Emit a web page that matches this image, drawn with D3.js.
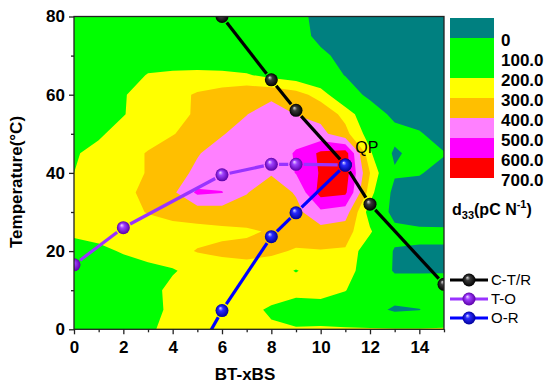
<!DOCTYPE html>
<html>
<head>
<meta charset="utf-8">
<script src="https://cdn.jsdelivr.net/npm/d3@7"></script>
<style>
  body { margin: 0; background: #fff; }
  text { font-family: Arial, "Liberation Sans", sans-serif; }
</style>
</head>
<body>
<div id="chart"></div>
<script>
// d33 map: columns are BT-xBS x, rows are temperature (top row = 80 C)
const xGrid = [0, 1, 2, 3, 4, 5, 6, 7, 8, 9, 10, 11, 12, 13, 14, 15];
const tGrid = [80, 75, 70, 65, 60, 55, 50, 45, 40, 35, 30, 25, 20, 15, 10, 5, 0];
const d33 = [
  [100, 100, 100, 100, 100, 100, 100, 100, 100,  60, -60, -100, -100, -100, -100, -100], // 80
  [100, 100, 100, 100, 100, 100, 100, 100, 100,  80, -50, -100, -100, -100, -100, -100], // 75
  [100, 100, 100, 100, 100, 100, 100, 100, 100, 100,  40,  -60, -100, -100, -100, -100], // 70
  [100, 100, 120, 210, 230, 235, 230, 210, 170, 140,  80,   -5, -100, -100, -100, -100], // 65
  [100, 120, 190, 260, 270, 310, 340, 380, 380, 340, 260,   80,  -35, -100, -100, -100], // 60
  [100, 130, 195, 250, 275, 310, 370, 398, 440, 398, 370,  270,   90,  -40, -100, -100], // 55
  [130, 185, 240, 270, 295, 340, 395, 430, 450, 460, 430,  330,  150,   55,   20, -100], // 50
  [190, 230, 270, 305, 350, 395, 430, 440, 440, 510, 620,  650,  220,  -30,   70,   10], // 45
  [200, 235, 270, 305, 370, 415, 440, 430, 410, 505, 610,  650,  300,   20,   10,  -50], // 40
  [230, 255, 280, 320, 380, 520, 505, 405, 340, 410, 640,  620,  250,  -50,  -60,  -60], // 35
  [235, 250, 270, 305, 330, 345, 350, 360, 355, 370, 480,  450,  150,  -50,  -60,  -70], // 30
  [225, 240, 250, 255, 265, 270, 280, 285, 310, 350, 360,  340,  215,   40,   20,   20], // 25
  [150, 175, 210, 240, 270, 305, 320, 330, 320, 290, 295,  290,  120,  -10,  -10,  -10], // 20
  [120, 130, 150, 170, 190, 240, 255, 260, 240, 195, 240,  250,  130,  -15,  -15,  -15], // 15
  [100, 110, 130, 160, 230, 250, 255, 255, 250, 245, 240,  205,  100,   90,   90,  100], // 10
  [ 80,  90, 110, 150, 230, 245, 240, 230, 185, 130, 150,  120,   60,  -25,   -5,   80], // 5
  [ 70,  90, 120, 180, 240, 250, 250, 240, 215, 210, 210,  210,  210,  210,  210,  210]  // 0
];

// colour levels of the map and colour bar
const levels = [0, 100, 200, 300, 400, 500, 600, 700];
const bandColors = ['#008080', '#00ff00', '#00ff00', '#ffff00', '#ffbf00', '#ff80ff', '#ff00ff', '#ff0000'];

const xTicks = [0, 2, 4, 6, 8, 10, 12, 14];
const xMinor = [1, 3, 5, 7, 9, 11, 13, 15];
const yTicks = [0, 20, 40, 60, 80];
const yMinor = [10, 30, 50, 70];

// phase boundaries
const ctrX = [6, 8, 9, 11, 12, 15];
const ctrT = [80, 63.8, 56, 42, 32, 11.5];
const toX = [0, 2, 6, 8, 9, 11];
const toT = [16.5, 26, 39.5, 42.2, 42.2, 42];
const orX = [5.4, 6, 8, 9, 11];
const orT = [-2, 4.8, 23.7, 29.8, 42];

const series = [
  {name: 'C-T/R', xs: ctrX, ts: ctrT, line: '#000000', hi: '#d8d8d8', mid: '#3a3a3a', edge: '#000000'},
  {name: 'T-O', xs: toX, ts: toT, line: '#9933ff', hi: '#f4dcff', mid: '#a040ff', edge: '#5c00a8'},
  {name: 'O-R', xs: orX, ts: orT, line: '#0000ff', hi: '#e0e0ff', mid: '#2a2aff', edge: '#00009a'}
];

const W = 550, H = 388;
const plot = {left: 74, right: 444, top: 16.5, bottom: 329.3};
const R = 6.5;

const svg = d3.select('#chart').append('svg')
    .attr('width', W)
    .attr('height', H);
svg.append('rect').attr('width', W).attr('height', H).attr('fill', '#fff');

const x = d3.scaleLinear().domain([0, 15]).range([plot.left, plot.right]);
const y = d3.scaleLinear().domain([0, 80]).range([plot.bottom, plot.top]);

const defs = svg.append('defs');
defs.append('clipPath').attr('id', 'plotClip')
  .append('rect')
    .attr('x', plot.left)
    .attr('y', plot.top)
    .attr('width', plot.right - plot.left)
    .attr('height', plot.bottom - plot.top);

series.forEach((s, i) => {
  let g = defs.append('radialGradient')
      .attr('id', 'ball' + i)
      .attr('cx', 0.5).attr('cy', 0.5).attr('r', 0.5)
      .attr('fx', 0.36).attr('fy', 0.3);
  g.append('stop').attr('offset', '0%').attr('stop-color', s.hi);
  g.append('stop').attr('offset', '35%').attr('stop-color', s.mid);
  g.append('stop').attr('offset', '100%').attr('stop-color', s.edge);
});

// contour map
const nx = xGrid.length, ny = tGrid.length;
const gx = d3.scaleLinear().domain([0.5, nx - 0.5]).range([x(xGrid[0]), x(xGrid[nx - 1])]);
const gy = d3.scaleLinear().domain([0.5, ny - 0.5]).range([y(tGrid[0]), y(tGrid[ny - 1])]);
const gridPath = d3.geoPath(d3.geoTransform({
  point: function(px, py) { this.stream.point(gx(px), gy(py)); }
}));
const contours = d3.contours()
    .size([nx, ny])
    .thresholds(levels.slice(0, -1))(d33.flat());

const map = svg.append('g').attr('clip-path', 'url(#plotClip)');
map.append('rect')
    .attr('x', plot.left).attr('y', plot.top)
    .attr('width', plot.right - plot.left)
    .attr('height', plot.bottom - plot.top)
    .attr('fill', bandColors[0]);
map.selectAll('path')
    .data(contours)
    .enter()
    .append('path')
    .attr('d', gridPath)
    .attr('fill', d => bandColors[levels.indexOf(d.value) + 1]);

// phase boundary lines, with a small gap round each ball
function gapped(pts, gap) {
  let segs = [];
  for (let i = 1; i < pts.length; i++) {
    let [x0, y0] = pts[i - 1], [x1, y1] = pts[i];
    let len = Math.hypot(x1 - x0, y1 - y0);
    let ux = (x1 - x0) / len, uy = (y1 - y0) / len;
    segs.push([x0 + ux * gap, y0 + uy * gap, x1 - ux * gap, y1 - uy * gap]);
  }
  return segs;
}

const lines = svg.append('g').attr('clip-path', 'url(#plotClip)');
series.forEach((s, i) => {
  let pts = s.xs.map((v, k) => [x(v), y(s.ts[k])]);
  lines.append('g')
    .selectAll('line')
    .data(gapped(pts, R + 1.2))
    .enter()
    .append('line')
    .attr('x1', d => d[0]).attr('y1', d => d[1])
    .attr('x2', d => d[2]).attr('y2', d => d[3])
    .attr('stroke', s.line)
    .attr('stroke-width', 3.2);
});
series.forEach((s, i) => {
  lines.append('g')
    .selectAll('circle')
    .data(s.xs)
    .enter()
    .append('circle')
    .attr('cx', d => x(d))
    .attr('cy', (d, k) => y(s.ts[k]))
    .attr('r', R)
    .attr('fill', `url(#ball${i})`);
});

// QP label
svg.append('text')
    .attr('x', x(11) + 10)
    .attr('y', y(42) - 12)
    .attr('font-size', '16px')
    .attr('fill', '#000')
    .text('QP');

// frame and axes
svg.append('rect')
    .attr('x', plot.left).attr('y', plot.top)
    .attr('width', plot.right - plot.left)
    .attr('height', plot.bottom - plot.top)
    .attr('fill', 'none')
    .attr('stroke', '#222')
    .attr('stroke-width', 1.3);

function styleAxis(g) {
  g.select('.domain').remove();
  g.selectAll('.tick line').attr('stroke', '#222').attr('stroke-width', 1.3);
  g.selectAll('.tick text')
    .attr('font-size', '17px')
    .attr('font-weight', 'bold')
    .attr('fill', '#000');
}

svg.append('g')
    .attr('transform', 'translate(0,' + plot.bottom + ')')
    .call(d3.axisBottom(x).tickValues(xTicks).tickSize(5).tickPadding(7).tickFormat(d3.format('d')))
    .call(styleAxis);
svg.append('g')
    .attr('transform', 'translate(0,' + plot.bottom + ')')
    .call(d3.axisBottom(x).tickValues(xMinor).tickSize(3).tickFormat(''))
    .call(styleAxis);
svg.append('g')
    .attr('transform', 'translate(' + plot.left + ',0)')
    .call(d3.axisLeft(y).tickValues(yTicks).tickSize(5).tickPadding(4).tickFormat(d3.format('d')))
    .call(styleAxis);
svg.append('g')
    .attr('transform', 'translate(' + plot.left + ',0)')
    .call(d3.axisLeft(y).tickValues(yMinor).tickSize(3).tickFormat(''))
    .call(styleAxis);

svg.append('text')
    .attr('x', 245)
    .attr('y', 380)
    .attr('text-anchor', 'middle')
    .attr('font-size', '17px')
    .attr('font-weight', 'bold')
    .text('BT-xBS');

svg.append('text')
    .attr('transform', 'translate(22,182) rotate(-90)')
    .attr('text-anchor', 'middle')
    .attr('font-size', '17px')
    .attr('font-weight', 'bold')
    .text('Temperature(\u00B0C)');

// colour bar
const cb = d3.scaleLinear().domain([-100, 700]).range([18, 178]);
const cbX = 450, cbW = 44;
svg.append('g')
  .selectAll('rect')
  .data(levels)
  .enter()
  .append('rect')
    .attr('x', cbX)
    .attr('y', (d, i) => cb(i === 0 ? -100 : levels[i - 1]))
    .attr('width', cbW)
    .attr('height', (d, i) => cb(d) - cb(i === 0 ? -100 : levels[i - 1]))
    .attr('fill', (d, i) => bandColors[i]);

svg.append('g')
  .selectAll('text')
  .data(levels)
  .enter()
  .append('text')
    .attr('x', 501)
    .attr('y', d => cb(d) + 1.5)
    .attr('dy', '0.36em')
    .attr('font-size', '17px')
    .attr('font-weight', 'bold')
    .text(d => d === 0 ? '0' : d3.format('.1f')(d));

let unit = svg.append('text')
    .attr('x', 452)
    .attr('y', 215)
    .attr('font-size', '16px')
    .attr('font-weight', 'bold');
unit.append('tspan').text('d');
unit.append('tspan').attr('dy', 4).attr('font-size', '11px').text('33');
unit.append('tspan').attr('dy', -4).text('(pC N');
unit.append('tspan').attr('dy', -7).attr('font-size', '11px').text('-1');
unit.append('tspan').attr('dy', 7).text(')');

// legend
const legend = svg.append('g')
  .selectAll('g')
  .data(series)
  .enter()
  .append('g')
    .attr('transform', (d, i) => 'translate(450,' + (280 + i * 19) + ')');
legend.append('line')
    .attr('x1', 0).attr('x2', 38)
    .attr('stroke', d => d.line)
    .attr('stroke-width', 3.2);
legend.append('circle')
    .attr('cx', 19)
    .attr('r', R)
    .attr('fill', (d, i) => `url(#ball${i})`);
legend.append('text')
    .attr('x', 41)
    .attr('dy', '0.36em')
    .attr('font-size', '15px')
    .text(d => d.name);
</script>
</body>
</html>
